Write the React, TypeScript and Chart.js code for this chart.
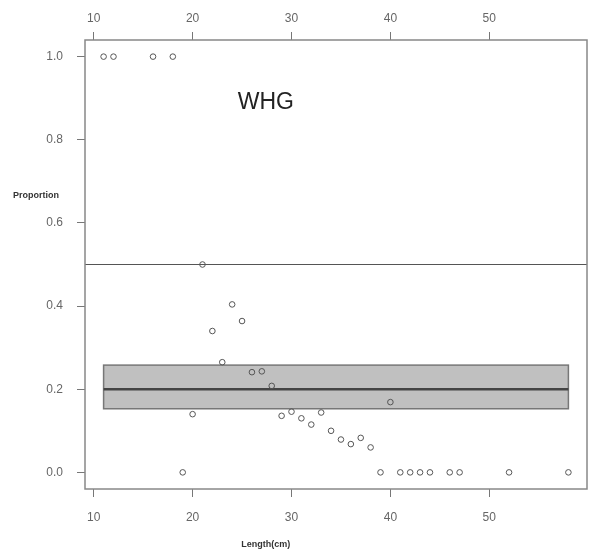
import React, { useEffect, useRef } from "react";
import { Chart, registerables } from "chart.js";

Chart.register(...registerables);

// Data
const lengths = [11, 12, 16, 18, 19, 20, 21, 22, 23, 24, 25, 26, 27, 28, 29, 30, 31, 32, 33, 34, 35, 36, 37, 38, 39, 40, 41, 42, 43, 44, 46, 47, 52, 58];
const proportions = [1.0, 1.0, 1.0, 1.0, 0.0, 0.14, 0.5, 0.34, 0.265, 0.404, 0.364, 0.241, 0.243, 0.208, 0.136, 0.146, 0.13, 0.115, 0.144, 0.1, 0.079, 0.068, 0.083, 0.06, 0.0, 0.169, 0.0, 0.0, 0.0, 0.0, 0.0, 0.0, 0.0, 0.0];
const xTickValues = [10, 20, 30, 40, 50];
const yTickValues = [0, 0.2, 0.4, 0.6, 0.8, 1.0];
const referenceLine = 0.5;
const bandX = [11, 58];
const bandLow = 0.153;
const bandHigh = 0.258;
const bandMid = 0.2;
const speciesLabel = "WHG";
const xTitle = "Length(cm)";
const yTitle = "Proportion";

const xMin = 9.12;
const xMax = 59.88;
const yMin = -0.04;
const yMax = 1.04;

const FONT = "'Liberation Sans', Arial, sans-serif";

const overlayPlugin = {
  id: "overlay",
  beforeDatasetsDraw(chart: any) {
    const { ctx, chartArea, scales } = chart;
    const x = scales.x;
    const y = scales.y;
    ctx.save();
    // reference line
    const yr = y.getPixelForValue(referenceLine);
    ctx.strokeStyle = "#555";
    ctx.lineWidth = 1;
    ctx.beginPath();
    ctx.moveTo(chartArea.left, yr);
    ctx.lineTo(chartArea.right, yr);
    ctx.stroke();
    // band
    const bx0 = x.getPixelForValue(bandX[0]);
    const bx1 = x.getPixelForValue(bandX[1]);
    const by0 = y.getPixelForValue(bandHigh);
    const by1 = y.getPixelForValue(bandLow);
    ctx.fillStyle = "#c0c0c0";
    ctx.fillRect(bx0, by0, bx1 - bx0, by1 - by0);
    ctx.strokeStyle = "#777";
    ctx.lineWidth = 1.5;
    ctx.strokeRect(bx0, by0, bx1 - bx0, by1 - by0);
    const bm = y.getPixelForValue(bandMid);
    ctx.strokeStyle = "#444";
    ctx.lineWidth = 2.5;
    ctx.beginPath();
    ctx.moveTo(bx0, bm);
    ctx.lineTo(bx1, bm);
    ctx.stroke();
    // label
    ctx.fillStyle = "#222";
    ctx.font = `23px ${FONT}`;
    ctx.textAlign = "center";
    ctx.textBaseline = "middle";
    ctx.fillText(speciesLabel, x.getPixelForValue(27.4), y.getPixelForValue(0.89));
    ctx.restore();
  },
  afterDraw(chart: any) {
    const { ctx, chartArea, scales } = chart;
    ctx.save();
    ctx.strokeStyle = "#888";
    ctx.lineWidth = 1.5;
    ctx.strokeRect(chartArea.left, chartArea.top, chartArea.right - chartArea.left, chartArea.bottom - chartArea.top);
    ctx.fillStyle = "#333";
    ctx.font = `bold 9px ${FONT}`;
    ctx.textAlign = "left";
    ctx.textBaseline = "middle";
    ctx.fillText(yTitle, 13, scales.y.getPixelForValue(0.665));
    ctx.textAlign = "center";
    ctx.fillText(xTitle, scales.x.getPixelForValue(27.4), 545);
    ctx.restore();
  },
};

export default function App() {
  const ref = useRef<HTMLCanvasElement>(null);
  useEffect(() => {
    document.body.style.margin = "0";
    const tickFont = { family: FONT, size: 12 };
    const gridCfg = { drawOnChartArea: false, drawTicks: true, tickLength: 8, color: "#777", lineWidth: 1 };
    const chart = new Chart(ref.current!, {
      type: "scatter",
      data: {
        datasets: [
          {
            data: lengths.map((l, i) => ({ x: l, y: proportions[i] })),
            pointStyle: "circle",
            pointRadius: 2.8,
            pointBorderWidth: 1,
            pointBorderColor: "#555",
            pointBackgroundColor: "rgba(0,0,0,0)",
            showLine: false,
          },
        ],
      },
      options: {
        animation: false,
        responsive: false,
        events: [],
        layout: { padding: { right: 4, left: 0, top: 0, bottom: 0 } },
        plugins: { legend: { display: false }, tooltip: { enabled: false } },
        scales: {
          x: {
            type: "linear",
            position: "bottom",
            min: xMin,
            max: xMax,
            afterBuildTicks: (s: any) => { s.ticks = xTickValues.map((v) => ({ value: v })); },
            afterFit: (s: any) => { s.height = 67; },
            border: { display: false },
            grid: gridCfg,
            ticks: { color: "#666", font: tickFont, padding: 13, maxRotation: 0, callback: (v: any) => String(v) },
          },
          x2: {
            type: "linear",
            position: "top",
            min: xMin,
            max: xMax,
            afterBuildTicks: (s: any) => { s.ticks = xTickValues.map((v) => ({ value: v })); },
            afterFit: (s: any) => { s.height = 40; },
            border: { display: false },
            grid: gridCfg,
            ticks: { color: "#666", font: tickFont, padding: 6, maxRotation: 0, callback: (v: any) => String(v) },
          },
          y: {
            type: "linear",
            position: "left",
            min: yMin,
            max: yMax,
            afterBuildTicks: (s: any) => { s.ticks = yTickValues.map((v) => ({ value: v })); },
            afterFit: (s: any) => { s.width = 85; },
            border: { display: false },
            grid: gridCfg,
            ticks: { color: "#666", font: tickFont, padding: 14, callback: (v: any) => Number(v).toFixed(1) },
          },
        },
      },
      plugins: [overlayPlugin],
    } as any);
    return () => chart.destroy();
  }, []);
  return (
    <div style={{ width: 592, height: 556, background: "#fff" }}>
      <canvas ref={ref} width={592} height={556} style={{ display: "block" }} />
    </div>
  );
}
